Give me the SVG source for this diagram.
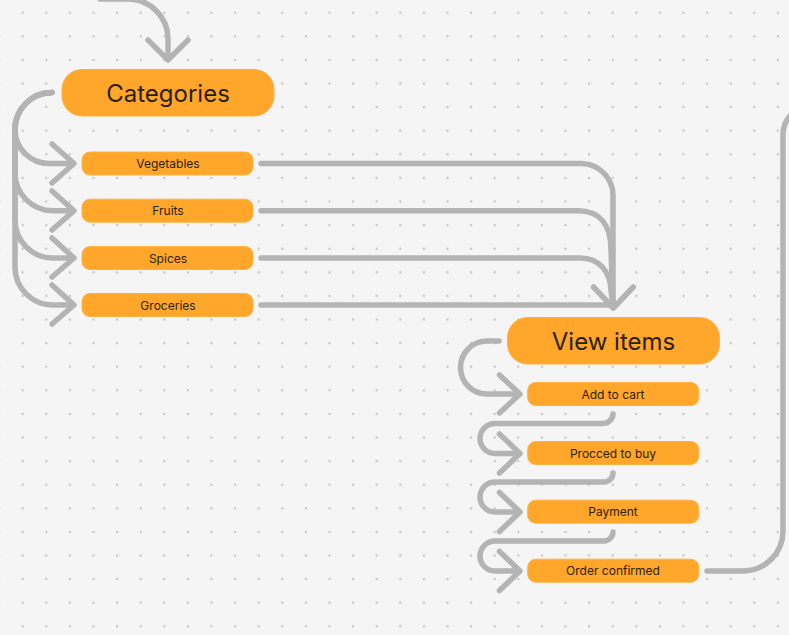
<svg xmlns="http://www.w3.org/2000/svg" width="789" height="635" viewBox="0 0 789 635">
<defs>
<pattern id="dots" patternUnits="userSpaceOnUse" x="10.9" y="0.9" width="23.6" height="23.6">
<circle cx="11.8" cy="11.8" r="1.2" fill="#c6c6c6"/>
</pattern>
</defs>
<style>
.big{fill:#FFA62B;stroke:#FFB244;stroke-width:1;}
.small{fill:#FFA62B;stroke:#FFB244;stroke-width:1;}
.t1{font-family:Inter,"Liberation Sans",sans-serif;font-size:24px;fill:#2a1f0e;text-anchor:middle;}
.t2{font-family:Inter,"Liberation Sans",sans-serif;font-size:12px;fill:#2a1f0e;text-anchor:middle;}
.c{fill:none;stroke:#b4b4b4;stroke-width:5.5;stroke-linecap:round;stroke-linejoin:round;}
</style>
<rect width="789" height="635" fill="#f5f5f5"/>
<rect width="789" height="635" fill="url(#dots)"/>
<g id="connectors">
<path class="c" d="M100 -1 H128 A40 40 0 0 1 168 39 V58"/>
<polyline class="c" points="148,40 168,60 188,40"/>
<path class="c" d="M52 92.5 A37 37 0 0 0 15 129.5 A34 34 0 0 0 49 163.5 H72"/>
<path class="c" d="M52 92.5 A37 37 0 0 0 15 129.5 V172.7 A38 38 0 0 0 53 210.7 H72"/>
<path class="c" d="M52 92.5 A37 37 0 0 0 15 129.5 V220 A38 38 0 0 0 53 258 H72"/>
<path class="c" d="M52 92.5 A37 37 0 0 0 15 129.5 V267 A38 38 0 0 0 53 305 H72"/>
<polyline class="c" points="52,144 74,163.5 52,183"/>
<polyline class="c" points="52,191 74,210.7 52,230"/>
<polyline class="c" points="52,238 74,258 52,277"/>
<polyline class="c" points="52,285 74,305 52,324"/>
<path class="c" d="M261 163.5 H581 A32 32 0 0 1 613 195.5 V306"/>
<path class="c" d="M261 210.7 H578 C600 210.7 611 225 611 250 L613 306"/>
<path class="c" d="M261 258 H580 C600 258 610 272 611 290 L613 306"/>
<path class="c" d="M261 305 H610"/>
<polyline class="c" points="593.5,287 613.3,308 633.3,287"/>
<path class="c" d="M499 341 H487 A26.5 26.5 0 0 0 487 394 H518"/>
<polyline class="c" points="499.5,375 520,394 499.5,413"/>
<path class="c" d="M613 414 A10 10 0 0 1 603 423.5 H495 A15 15 0 0 0 495 453.5 H518"/>
<polyline class="c" points="499.5,434 520,453.5 499.5,473"/>
<path class="c" d="M613 473 A9 9 0 0 1 604 482 H495 A15 15 0 0 0 495 512 H518"/>
<polyline class="c" points="499.5,492.5 520,512 499.5,531.5"/>
<path class="c" d="M613 532 A9 9 0 0 1 604 541 H495 A15 15 0 0 0 495 571 H518"/>
<polyline class="c" points="499.5,551.5 520,571 499.5,590.5"/>
<path class="c" d="M707 571 H743 A40 40 0 0 0 783 531 V135 A30 30 0 0 1 813 105"/>
</g>
<g id="categories"><rect class="big" x="62" y="69.5" width="212" height="46.5" rx="20"/><text class="t1" x="168" y="101.9">Categories</text></g>
<g id="vegetables"><rect class="small" x="82" y="152" width="171" height="23" rx="8"/><text class="t2" x="168" y="168.2">Vegetables</text></g>
<g id="fruits"><rect class="small" x="82" y="199.2" width="171" height="23" rx="8"/><text class="t2" x="168" y="215.4">Fruits</text></g>
<g id="spices"><rect class="small" x="82" y="246.5" width="171" height="23" rx="8"/><text class="t2" x="168" y="262.7">Spices</text></g>
<g id="groceries"><rect class="small" x="82" y="293.5" width="171" height="23" rx="8"/><text class="t2" x="168" y="309.7">Groceries</text></g>
<g id="view-items"><rect class="big" x="507.5" y="317.5" width="212" height="46.5" rx="20"/><text class="t1" x="613.5" y="349.7">View items</text></g>
<g id="add-to-cart"><rect class="small" x="527.7" y="382.5" width="171" height="23" rx="8"/><text class="t2" x="613" y="398.7">Add to cart</text></g>
<g id="procced-to-buy"><rect class="small" x="527.7" y="441.5" width="171" height="23" rx="8"/><text class="t2" x="613" y="457.7">Procced to buy</text></g>
<g id="payment"><rect class="small" x="527.7" y="500.2" width="171" height="23" rx="8"/><text class="t2" x="613" y="516.4">Payment</text></g>
<g id="order-confirmed"><rect class="small" x="527.7" y="559.2" width="171" height="23" rx="8"/><text class="t2" x="613" y="575.4">Order confirmed</text></g>
</svg>
